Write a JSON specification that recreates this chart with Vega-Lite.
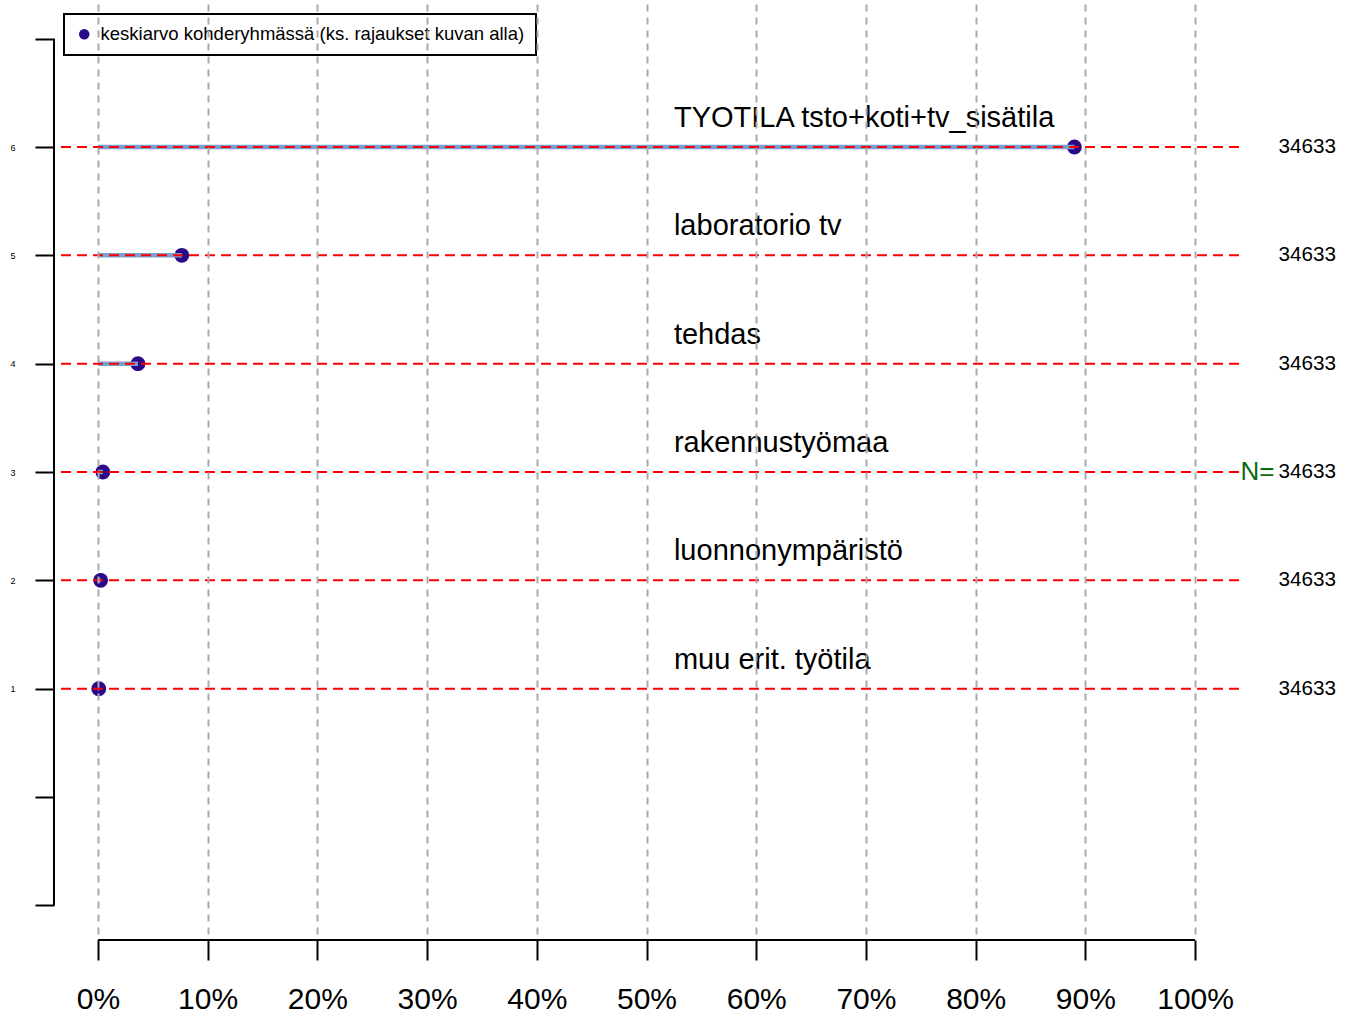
{
  "$schema": "https://vega.github.io/schema/vega-lite/v6.json",
  "width": 1185,
  "height": 936,
  "autosize": {"type": "none"},
  "padding": {"left": 54, "top": 4, "right": 112, "bottom": 75},
  "background": "white",
  "config": {
    "view": {"stroke": null},
    "font": "Liberation Sans",
    "text": {"font": "Liberation Sans"},
    "legend": {"strokeWidth": 2}
  },
  "data": {
    "values": [
      {"kohde": "TYOTILA tsto+koti+tv_sisätila", "rivi": 6, "osuus": 89.0, "n": 34633, "sarja": "keskiarvo kohderyhmässä (ks. rajaukset kuvan alla)"},
      {"kohde": "laboratorio tv", "rivi": 5, "osuus": 7.65, "n": 34633, "sarja": "keskiarvo kohderyhmässä (ks. rajaukset kuvan alla)"},
      {"kohde": "tehdas", "rivi": 4, "osuus": 3.65, "n": 34633, "sarja": "keskiarvo kohderyhmässä (ks. rajaukset kuvan alla)"},
      {"kohde": "rakennustyömaa", "rivi": 3, "osuus": 0.45, "n": 34633, "sarja": "keskiarvo kohderyhmässä (ks. rajaukset kuvan alla)"},
      {"kohde": "luonnonympäristö", "rivi": 2, "osuus": 0.25, "n": 34633, "sarja": "keskiarvo kohderyhmässä (ks. rajaukset kuvan alla)"},
      {"kohde": "muu erit. työtila", "rivi": 1, "osuus": 0.08, "n": 34633, "sarja": "keskiarvo kohderyhmässä (ks. rajaukset kuvan alla)"}
    ]
  },
  "layer": [
    {
      "mark": {"type": "point", "filled": true, "opacity": 1, "size": 220, "shape": "circle"},
      "encoding": {
        "x": {
          "field": "osuus", "type": "quantitative",
          "scale": {"domain": [-4, 104], "nice": false, "zero": false, "padding": 0},
          "axis": {
            "values": [0, 10, 20, 30, 40, 50, 60, 70, 80, 90, 100],
            "labelExpr": "datum.value + '%'",
            "title": null,
            "domain": false,
            "tickSize": 20,
            "tickWidth": 2,
            "tickColor": "black",
            "labelFontSize": 30,
            "labelFont": "Liberation Sans",
            "labelColor": "black",
            "labelPadding": 24,
            "labelFlush": false,
            "labelOverlap": false,
            "grid": true,
            "gridColor": "#aaaaaa",
            "gridWidth": 2,
            "gridDash": [7, 6],
            "zindex": 1
          }
        },
        "y": {
          "field": "rivi", "type": "quantitative",
          "scale": {"domain": [-1.32, 7.32], "nice": false, "zero": false, "padding": 0},
          "axis": {
            "values": [-1, 0, 1, 2, 3, 4, 5, 6, 7],
            "labelExpr": "datum.value >= 1 && datum.value <= 6 ? format(datum.value, 'd') : ''",
            "title": null,
            "domain": false,
            "grid": false,
            "tickSize": 19,
            "tickWidth": 2,
            "tickColor": "black",
            "labelFontSize": 9,
            "labelColor": "black",
            "labelPadding": 20,
            "labelOverlap": false
          }
        },
        "color": {
          "field": "sarja", "type": "nominal",
          "scale": {"range": ["#2b0a8a"]},
          "legend": {
            "title": null,
            "orient": "none",
            "legendX": 10,
            "legendY": 10,
            "strokeColor": "black",
            "fillColor": "white",
            "padding": 11,
            "labelFontSize": 18.5,
            "labelFont": "Liberation Sans",
            "labelColor": "black",
            "labelLimit": 600,
            "symbolSize": 110,
            "symbolType": "circle",
            "symbolStrokeWidth": 0,
            "labelOffset": 7
          }
        }
      }
    },
    {
      "mark": {"type": "bar", "orient": "horizontal", "color": "#76a2d1", "height": 4.5},
      "encoding": {
        "x": {"field": "osuus", "type": "quantitative"},
        "y": {"field": "rivi", "type": "quantitative"}
      }
    },
    {
      "mark": {"type": "rule", "color": "#ff0000", "strokeWidth": 2, "strokeDash": [10, 6]},
      "encoding": {
        "y": {"field": "rivi", "type": "quantitative"}
      }
    },
    {
      "mark": {"type": "text", "align": "left", "baseline": "alphabetic", "fontSize": 29, "dy": -20, "color": "black"},
      "encoding": {
        "x": {"datum": 52.5},
        "y": {"field": "rivi", "type": "quantitative"},
        "text": {"field": "kohde", "type": "nominal"}
      }
    },
    {
      "mark": {"type": "text", "align": "left", "baseline": "middle", "fontSize": 20.7, "color": "black"},
      "encoding": {
        "x": {"datum": 107.6},
        "y": {"field": "rivi", "type": "quantitative"},
        "text": {"field": "n", "type": "nominal"}
      }
    },
    {
      "data": {"values": [{"rivi": 3, "t": "N="}]},
      "mark": {"type": "text", "align": "right", "baseline": "middle", "fontSize": 26, "color": "#0b6b0b", "dx": -4},
      "encoding": {
        "x": {"datum": 107.6},
        "y": {"field": "rivi", "type": "quantitative"},
        "text": {"field": "t", "type": "nominal"}
      }
    },
    {
      "data": {"values": [{"reuna": -4, "ala": -1, "yla": 7}]},
      "mark": {"type": "rule", "color": "black", "strokeWidth": 2},
      "encoding": {
        "x": {"field": "reuna", "type": "quantitative"},
        "y": {"field": "ala", "type": "quantitative"},
        "y2": {"field": "yla"}
      }
    },
    {
      "data": {"values": [{"alku": 0, "loppu": 100, "taso": -1.32}]},
      "mark": {"type": "rule", "color": "black", "strokeWidth": 2},
      "encoding": {
        "x": {"field": "alku", "type": "quantitative"},
        "x2": {"field": "loppu"},
        "y": {"field": "taso", "type": "quantitative"}
      }
    }
  ]
}
